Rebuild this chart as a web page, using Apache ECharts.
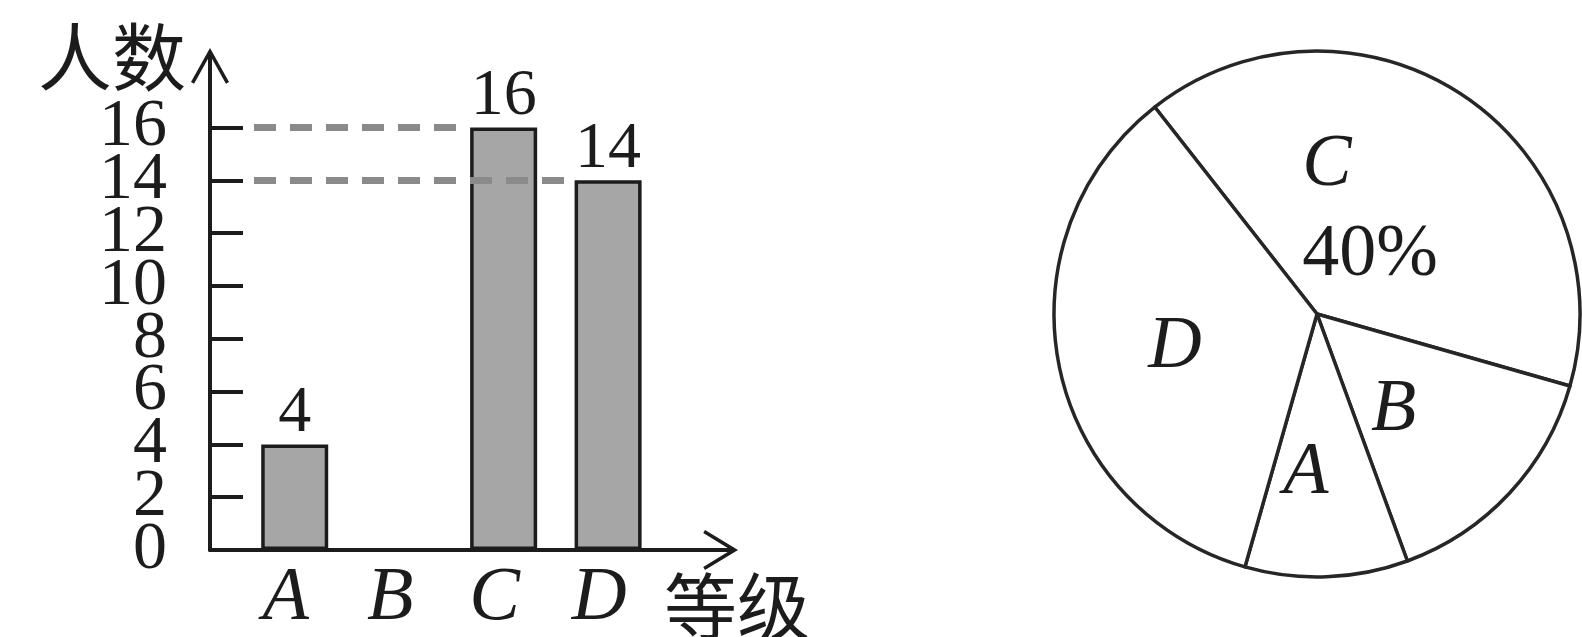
<!DOCTYPE html>
<html>
<head>
<meta charset="utf-8">
<script src="https://cdn.jsdelivr.net/npm/echarts@6/dist/echarts.min.js"></script>
<style>
  html, body { margin: 0; padding: 0; background: #fff; }
  #chart { width: 1582px; height: 637px; }
</style>
</head>
<body>
<div id="chart"></div>
<script>
// Grades on the horizontal axis
const categories = ['A', 'B', 'C', 'D'];
// Number of students per grade on the bar chart (grade B is left blank)
const barValues = [4, null, 16, 14];
// Number of students per grade behind the pie chart (40 students in all)
const pieValues = [4, 6, 16, 14];
// Tick labels on the vertical axis
const yTicks = [0, 2, 4, 6, 8, 10, 12, 14, 16];
// Bars whose heights are traced back to the vertical axis with dashed lines
const guideCategories = ['C', 'D'];
// Clockwise order of the slices, starting from the upper-left radius
const sliceOrder = ['C', 'B', 'A', 'D'];

const SERIF = '"Liberation Serif", "Times New Roman", serif';
const CJK = '"Noto Sans CJK SC", "Noto Sans CJK JP", sans-serif';
const INK = '#1c1c1c';

// Layout of the bar chart
const GRID = { left: 210, top: 66, width: 510.5, height: 484 };
const X_MIN = -0.811, X_MAX = 4.076;
const Y_MAX = 18.33;
const BAR_W = 67;
const TICK_LEN = 33;
// pixels per category step along the horizontal axis
const UNIT_PX = GRID.width / (X_MAX - X_MIN);

// Open arrow heads (with a short stem) for the two axes
const arrowY = 'path://M19,0 L38,34 L34.95,35.7 L21,10.8 L21,36 L17,36 L17,10.8 L3.05,35.7 L0,34 Z';
const arrowX = 'path://M20,0 L40,33 L36.96,34.74 L22,10.3 L22,35 L18,35 L18,10.3 L3.04,34.74 L0,33 Z';

// Small nudges of the slice letters inside the pie
const sliceLabelNudge = { C: [-22, 8], B: [-22, 5], A: [-16, 25], D: [-10, 8] };

const barData = [];
categories.forEach(function (c, i) {
  if (barValues[i] != null) barData.push([i, barValues[i]]);
});

// Dashed lines: from just past the axis ticks to the left edge of each traced bar
const guideLines = guideCategories.map(function (c) {
  const i = categories.indexOf(c);
  const v = barValues[i];
  return [
    { xAxis: X_MIN + (TICK_LEN + 11) / UNIT_PX, yAxis: v },
    { xAxis: i - (BAR_W / 2 + 2) / UNIT_PX, yAxis: v }
  ];
});

// The tick labels sit tightly stacked, so they are split over two label-only
// layers (every other value) to keep the library from dropping any of them.
const yLabelsEven = yTicks.filter(function (v, k) { return k % 2 === 0; });
const yLabelsOdd = yTicks.filter(function (v, k) { return k % 2 === 1; });

const pieData = sliceOrder.map(function (c) {
  return { name: c, value: pieValues[categories.indexOf(c)] };
});

const yLabelStyle = {
  showMinLabel: true,
  showMaxLabel: true,
  hideOverlap: false,
  fontFamily: SERIF,
  fontSize: 68,
  color: INK,
  margin: 43,
  padding: [0, 0, 12, 0]
};

const chart = echarts.init(document.getElementById('chart'), null, { renderer: 'canvas' });

chart.setOption({
  animation: false,
  backgroundColor: '#ffffff',
  grid: {
    left: GRID.left, top: GRID.top, width: GRID.width, height: GRID.height,
    containLabel: false,
    outerBoundsMode: 'none'
  },
  xAxis: {
    type: 'value',
    min: X_MIN,
    max: X_MAX,
    splitLine: { show: false },
    axisTick: { show: false },
    axisLine: {
      show: true,
      onZero: false,
      symbol: ['none', arrowX],
      symbolSize: [40, 35],
      lineStyle: { color: INK, width: 4 }
    },
    axisLabel: {
      customValues: categories.map(function (c, i) { return i; }),
      formatter: function (v) { return categories[Math.round(v)]; },
      showMinLabel: true,
      showMaxLabel: true,
      hideOverlap: false,
      fontFamily: SERIF,
      fontStyle: 'italic',
      fontSize: 76,
      color: INK,
      margin: 11,
      padding: [0, 18, 0, 0]
    },
    name: '等级',
    nameLocation: 'end',
    nameGap: 16.5,
    nameTextStyle: {
      fontFamily: CJK,
      fontSize: 73,
      color: INK,
      align: 'center',
      verticalAlign: 'top',
      padding: [20, 0, 0, 0]
    }
  },
  yAxis: [
    {
      type: 'value',
      min: 0,
      max: Y_MAX,
      splitLine: { show: false },
      axisLine: {
        show: true,
        onZero: false,
        symbol: ['none', arrowY],
        symbolSize: [38, 36],
        lineStyle: { color: INK, width: 4 }
      },
      axisTick: {
        show: true,
        inside: true,
        length: TICK_LEN,
        customValues: yTicks,
        lineStyle: { color: INK, width: 4 }
      },
      axisLabel: Object.assign({ customValues: yLabelsEven }, yLabelStyle),
      name: '人数',
      nameLocation: 'end',
      nameGap: 9,
      nameTextStyle: {
        fontFamily: CJK,
        fontSize: 74,
        color: INK,
        align: 'right',
        verticalAlign: 'middle',
        padding: [0, 24, 0, 0]
      }
    },
    {
      type: 'value',
      position: 'left',
      offset: 0,
      min: 0,
      max: Y_MAX,
      splitLine: { show: false },
      axisLine: { show: false, onZero: false },
      axisTick: { show: false },
      axisLabel: Object.assign({ customValues: yLabelsOdd }, yLabelStyle)
    }
  ],
  series: [
    {
      id: 'bars',
      type: 'bar',
      yAxisIndex: 0,
      data: barData,
      barWidth: BAR_W,
      itemStyle: { color: '#a6a6a6', borderColor: INK, borderWidth: 3.5 },
      label: {
        show: true,
        position: 'top',
        distance: -2,
        formatter: function (p) { return String(p.value[1]); },
        fontFamily: SERIF,
        fontSize: 66,
        color: INK
      },
      markLine: {
        silent: true,
        symbol: ['none', 'none'],
        label: { show: false },
        lineStyle: { type: [22, 14], color: '#8a8a8a', width: 7 },
        data: guideLines
      }
    },
    {
      id: 'pie',
      type: 'pie',
      center: [1317, 314],
      radius: 263,
      startAngle: 128.1,
      clockwise: true,
      data: pieData,
      itemStyle: { color: '#ffffff', borderColor: '#262626', borderWidth: 3.5 },
      emphasis: { disabled: true },
      labelLine: { show: false },
      label: {
        show: true,
        position: 'inner',
        color: INK,
        formatter: function (p) {
          if (p.name === 'C') {
            return '{lc|' + p.name + '}\n{p|' + Math.round(p.percent) + '%}';
          }
          return '{l|' + p.name + '}';
        },
        rich: {
          l: { fontFamily: SERIF, fontStyle: 'italic', fontSize: 74, color: INK, lineHeight: 90 },
          lc: { fontFamily: SERIF, fontStyle: 'italic', fontSize: 74, color: INK, lineHeight: 90, padding: [0, 86, 0, 0] },
          p: { fontFamily: SERIF, fontSize: 74, color: INK, lineHeight: 90 }
        }
      },
      labelLayout: function (params) {
        const n = sliceLabelNudge[pieData[params.dataIndex].name] || [0, 0];
        return { dx: n[0], dy: n[1] };
      }
    }
  ]
});
</script>
</body>
</html>
